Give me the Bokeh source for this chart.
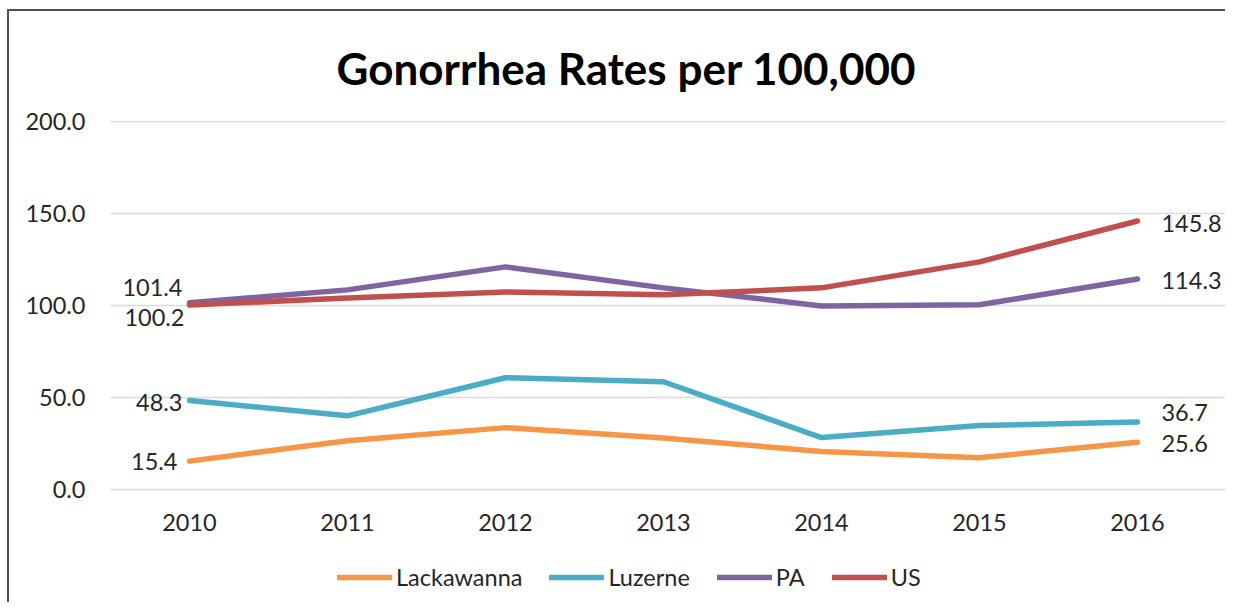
from bokeh.plotting import figure
from bokeh.models import (Range1d, FixedTicker, NumeralTickFormatter, Legend, LegendItem,
                          ColumnDataSource)
from bokeh.core.properties import value
from bokeh.embed import file_html
from bokeh.resources import INLINE

# ---- data ----
years = [2010, 2011, 2012, 2013, 2014, 2015, 2016]
lackawanna = [15.4, 26.5, 33.6, 28.0, 20.6, 17.3, 25.6]
luzerne = [48.3, 40.0, 60.7, 58.5, 28.2, 34.7, 36.7]
pa = [101.4, 108.4, 120.9, 109.5, 99.7, 100.3, 114.3]
us = [100.2, 104.0, 107.3, 105.7, 109.5, 123.6, 145.8]
series_names = ["Lackawanna", "Luzerne", "PA", "US"]
y_ticks = [0, 50, 100, 150, 200]
title_text = "Gonorrhea Rates per 100,000"

# ---- styles ----
colors = ["#F79646", "#4BACC6", "#8064A2", "#C0504D"]
# label offsets (first point, last point): (x_off, y_off) in px
first_offsets = [(-12, 0), (-7, 2), (-7, -15), (-5, 13)]
last_offsets = [(24, 1), (24, -9), (24, 1), (24, 2)]
FONT = "Lato"
TXT = "#262626"
FS = "23.5px"
W, H = 1218, 593

p = figure(width=W, height=H, output_backend="svg", toolbar_location=None,
           x_range=Range1d(2009.5, 2016.557), y_range=Range1d(-62.45, 200.38),
           min_border_left=101, min_border_right=2, min_border_top=109,
           min_border_bottom=0)
p.styles = {"margin-left": "7px", "margin-top": "9px",
            "border-left": "2px solid #505050", "border-top": "2px solid #505050"}

p.title.text = title_text
p.title.text_font = FONT
p.title.text_font_size = "44px"
p.title.text_font_style = "bold"
p.title.text_color = "#000000"
p.title.align = "left"
p.title.vertical_align = "top"
p.title.offset = 226
p.title.standoff = 49

p.outline_line_color = None
p.background_fill_color = "white"
p.border_fill_color = "white"
p.xgrid.grid_line_color = None
p.ygrid.grid_line_color = "#d9d9d9"
p.ygrid.grid_line_width = 1.5

p.xaxis.ticker = FixedTicker(ticks=years)
p.xaxis.fixed_location = 0
p.yaxis.ticker = FixedTicker(ticks=y_ticks)
p.yaxis.formatter = NumeralTickFormatter(format="0.0")
for ax in (p.xaxis, p.yaxis):
    ax.axis_line_color = None
    ax.major_tick_line_color = None
    ax.minor_tick_line_color = None
    ax.major_tick_out = 0
    ax.major_tick_in = 0
    ax.major_label_text_font = FONT
    ax.major_label_text_font_size = FS
    ax.major_label_text_color = TXT
p.xaxis.major_label_standoff = 25
p.yaxis.major_label_standoff = 25

all_series = [lackawanna, luzerne, pa, us]
items = []
for name, vals, col in zip(series_names, all_series, colors):
    r = p.line(years, vals, line_width=5.5, line_color=col, line_cap="round", line_join="round")
    items.append(LegendItem(label=name, renderers=[r]))

# data labels on first and last points
lx, ly, lt, lxo, lyo, la = [], [], [], [], [], []
for vals, fo, lo in zip(all_series, first_offsets, last_offsets):
    lx += [years[0], years[-1]]
    ly += [vals[0], vals[-1]]
    lt += [f"{vals[0]:.1f}", f"{vals[-1]:.1f}"]
    lxo += [fo[0], lo[0]]
    lyo += [fo[1], lo[1]]
    la += ["right", "left"]
src = ColumnDataSource(dict(x=lx, y=ly, t=lt, xo=lxo, yo=lyo, a=la))
p.text(x="x", y="y", text="t", x_offset="xo", y_offset="yo", text_align="a",
       text_baseline="middle", text_font=value(FONT), text_font_size=FS,
       text_color=TXT, source=src)

legend = Legend(items=items, orientation="horizontal", location=(227, 13),
                label_text_font=FONT, label_text_font_size=FS, label_text_color=TXT,
                glyph_width=55, glyph_height=24, label_standoff=4, spacing=27,
                padding=0, margin=0, border_line_color=None, background_fill_alpha=0)
p.add_layout(legend)

open("out.html", "w").write(file_html(p, INLINE))
